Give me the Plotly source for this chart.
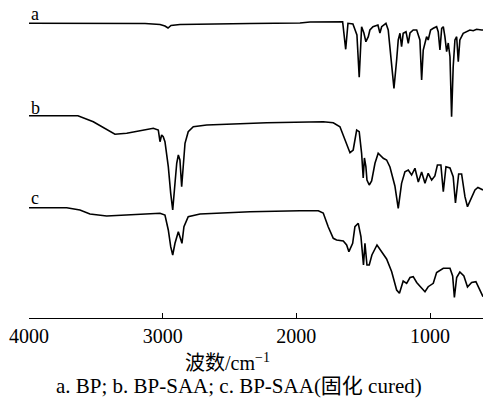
import plotly.graph_objects as go

# Wavenumbers (cm^-1) and relative transmittance (a.u., offset traces)
a_wn = [4000, 3132, 3020, 2983, 2960, 2938, 2871, 2721, 2347, 1973, 1898, 1654, 1631, 1614, 1577, 1547,
        1530, 1512, 1495, 1480, 1462, 1450, 1427, 1390, 1375, 1362, 1330, 1313, 1300, 1287, 1270, 1250,
        1238, 1225, 1213, 1201, 1180, 1163, 1150, 1126, 1100, 1076, 1063, 1051, 1038, 1026, 1014, 996,
        976, 951, 939, 926, 913, 901, 889, 876, 864, 851, 839, 827, 814, 801, 789, 777, 752, 726, 702,
        677, 652, 614, 604]
a_T = [294.7, 294.5, 293.5, 292, 290, 292.5, 293.5, 294, 294.5, 295, 296, 296.3, 268.7, 294.7, 294, 283,
       240.7, 291.3, 285, 276.3, 281.3, 288, 291.3, 293, 285, 291.3, 294.7, 288, 268, 251.3, 229.7, 258,
       278, 284.7, 271.3, 284.7, 286.3, 274.7, 285, 288, 288, 278, 238, 268, 275, 281.3, 278, 288,
       289.7, 291.3, 286.3, 268, 289.7, 291.3, 281.3, 266.3, 275, 261.3, 201.3, 251.3, 278, 281.3, 256.3, 278, 284.7, 286.3, 288,
       287.3, 288.7, 288, 288]

b_wn = [4000, 3634, 3519, 3419, 3357, 3269, 3170, 3070, 3033, 3020, 3008, 2996, 2983, 2958, 2940, 2925,
        2908, 2895, 2883, 2871, 2858, 2846, 2833, 2809, 2771, 2671, 2222, 1799, 1724, 1674, 1637, 1599,
        1575, 1549, 1530, 1512, 1500, 1491, 1480, 1472, 1455, 1437, 1412, 1388, 1350, 1325, 1300, 1263,
        1238, 1213, 1188, 1163, 1138, 1113, 1088, 1063, 1038, 1014, 988, 964, 945, 919, 901, 881, 851,
        827, 810, 786, 764, 739, 720, 689, 664, 642, 614, 604]
b_T = [202.3, 202.3, 196.3, 188, 183.7, 184.7, 187.3, 189.7, 188, 176.3, 183, 181.3, 176.3, 151.3, 124.7, 108,
       134.7, 154.7, 163, 158, 131.3, 151.3, 174.7, 186.3, 191.3, 193, 195.3, 196.3, 195.3, 191.3, 178, 165.3,
       168, 188, 186.3, 164.7, 140, 160, 151.3, 138, 133, 137, 154.7, 164.7, 159.7, 158, 151, 132,
       109.7, 134.7, 146.3, 148, 143, 149.7, 136, 146, 134.7, 144.7, 138, 142, 153, 153, 126.3, 151.3, 150,
       141.3, 115, 144, 144, 121.3, 111.3, 120, 128, 130.5, 128, 128]

c_wn = [4000, 3718, 3619, 3544, 3419, 3220, 3020, 2983, 2958, 2940, 2925, 2908, 2883, 2871, 2856, 2841,
        2809, 2721, 2347, 1973, 1836, 1799, 1762, 1724, 1699, 1649, 1624, 1607, 1579, 1562, 1537, 1517,
        1498, 1487, 1472, 1455, 1435, 1397, 1360, 1325, 1287, 1250, 1229, 1201, 1175, 1150, 1126, 1100,
        1072, 1038, 1014, 976, 951, 901, 851, 831, 818, 801, 777, 747, 720, 689, 657, 627, 604]
c_T = [110.3, 110.3, 108, 104, 102, 103, 104.7, 103, 88, 71.3, 63, 74.7, 86.3, 81.3, 74.7, 91.3,
       101.3, 104, 106.3, 107.3, 107.3, 105, 91.3, 79.7, 78, 77, 73, 66.3, 74.7, 91.3, 94.7, 81.3,
       53, 74.7, 53, 53, 63, 73, 66.3, 59, 46.3, 28, 24.7, 37, 34.7, 40.5, 41.3, 35.5,
       31.3, 26.3, 31.3, 34.7, 45.5, 49.7, 49.7, 42, 20.5, 40.5, 46, 42, 31, 35.5, 36.3, 28, 21.3]

trace_labels = ["a", "b", "c"]
label_T = [304, 210, 120]
x_ticks = [4000, 3000, 2000, 1000]
x_title = "波数/cm<sup>−1</sup>"
caption = "a. BP; b. BP-SAA; c. BP-SAA(固化 cured)"

FONT = "Liberation Serif, Times New Roman, Noto Sans CJK SC, serif"

fig = go.Figure()
for wn, t in [(a_wn, a_T), (b_wn, b_T), (c_wn, c_T)]:
    fig.add_trace(go.Scatter(x=wn, y=t, mode="lines",
                             line=dict(color="black", width=1.6), showlegend=False,
                             hoverinfo="skip"))

for lab, ty in zip(trace_labels, label_T):
    fig.add_annotation(x=3955, y=ty, xref="x", yref="y", text=lab, showarrow=False,
                       font=dict(family=FONT, size=18, color="black"))

fig.add_annotation(x=2512, y=-0.142, xref="x", yref="paper", text=x_title, showarrow=False,
                   yanchor="middle", font=dict(family=FONT, size=20, color="black"))
fig.add_annotation(x=2429, y=-0.219, xref="x", yref="paper", text=caption, showarrow=False,
                   yanchor="middle", font=dict(family=FONT, size=21, color="black"))

fig.update_layout(
    width=483, height=401,
    margin=dict(l=29, r=0, t=8, b=83, autoexpand=False),
    paper_bgcolor="white", plot_bgcolor="white",
    xaxis=dict(range=[4000, 604], tickvals=x_ticks, ticks="inside", ticklen=5,
               tickcolor="black", tickwidth=1, showline=True, linecolor="black", linewidth=1,
               showgrid=False, zeroline=False,
               tickfont=dict(family=FONT, size=20, color="black")),
    yaxis=dict(range=[0, 310], visible=False, showgrid=False, zeroline=False),
)

fig.write_html("out.html", config={"displayModeBar": False},
               post_script="document.body.style.margin='0';document.body.style.overflow='hidden';")
